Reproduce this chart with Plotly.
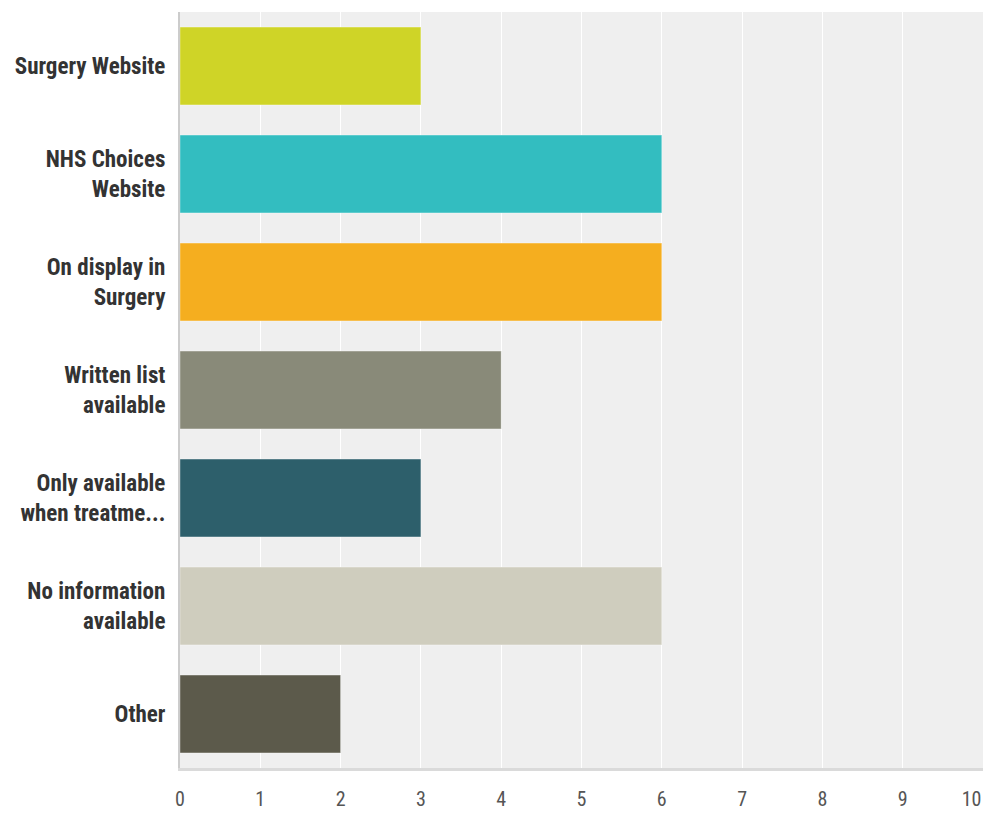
import plotly.graph_objects as go

categories = [
    "Surgery Website",
    "NHS Choices<br>Website",
    "On display in<br>Surgery",
    "Written list<br>available",
    "Only available<br>when treatme...",
    "No information<br>available",
    "Other",
]
values = [3, 6, 6, 4, 3, 6, 2]
colors = ["#cfd427", "#33bdc0", "#f5ae1f", "#898a79", "#2d5f6b", "#cfcdbe", "#5c5a4b"]
x_ticks = list(range(0, 11))
x_tick_labels = [str(v) for v in x_ticks]

narrow = "Roboto Condensed, Liberation Sans Narrow, Arial Narrow, sans-serif"

# the last label sits flush with the right edge, as in the reference
shown_labels = x_tick_labels[:-1] + [x_tick_labels[-1] + "\u00a0" * 5]

fig = go.Figure(
    go.Bar(
        y=categories,
        x=values,
        orientation="h",
        marker=dict(color=colors, line=dict(color="rgba(255,255,255,0.35)", width=1)),
        width=0.72,
    )
)

fig.update_layout(
    width=975,
    height=805,
    margin=dict(l=172, r=0, t=4, b=45),
    plot_bgcolor="#efefef",
    paper_bgcolor="white",
    showlegend=False,
)
fig.update_xaxes(
    automargin=False,
    range=[0, 10],
    tickvals=x_ticks,
    ticktext=shown_labels,
    ticklabeloverflow="allow",
    showgrid=True,
    gridcolor="white",
    gridwidth=1,
    zeroline=False,
    showline=True,
    linecolor="#dadada",
    linewidth=3,
    ticks="outside",
    ticklen=11,
    tickcolor="rgba(0,0,0,0)",
    tickfont=dict(family=narrow, size=20, color="#555555"),
    fixedrange=True,
)
fig.update_yaxes(
    automargin=False,
    autorange="reversed",
    showgrid=False,
    showline=True,
    linecolor="#cccccc",
    linewidth=2,
    ticks="outside",
    ticklen=8,
    tickfont=dict(family=narrow, size=23, color="#333333", weight="bold"),
    tickcolor="rgba(0,0,0,0)",
    fixedrange=True,
)

fig.write_html("out.html")
